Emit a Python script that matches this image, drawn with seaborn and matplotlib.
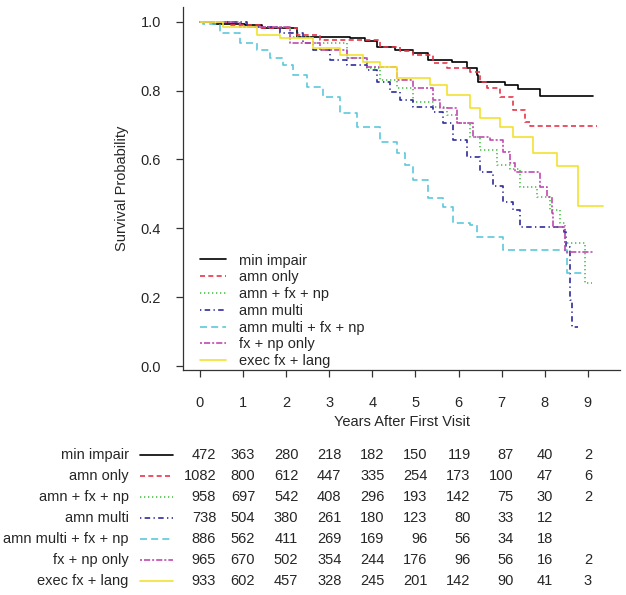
import numpy as np
import pandas as pd
import matplotlib
matplotlib.use("Agg")
import matplotlib.pyplot as plt
from matplotlib.lines import Line2D
import seaborn as sns

# ---------------- data ----------------
groups = ["min impair", "amn only", "amn + fx + np", "amn multi",
          "amn multi + fx + np", "fx + np only", "exec fx + lang"]

t_min_impair = [0, 0.30, 1.04, 1.44, 2.25, 3.48, 3.83, 4.11, 4.52, 4.94, 5.29, 5.85, 6.19, 6.43, 6.45, 7.07, 7.38, 7.89, 9.12]
s_min_impair = [1.0, 0.994, 0.990, 0.982, 0.956, 0.953, 0.944, 0.927, 0.918, 0.909, 0.889, 0.883, 0.866, 0.845, 0.825, 0.816, 0.805, 0.784, 0.784]

t_amn_only = [0, 0.70, 1.39, 2.25, 2.78, 4.18, 4.64, 4.94, 5.40, 5.73, 6.26, 6.50, 6.66, 6.96, 7.26, 7.54, 7.65, 9.21]
s_amn_only = [1.0, 0.990, 0.982, 0.961, 0.947, 0.927, 0.915, 0.903, 0.880, 0.866, 0.854, 0.825, 0.807, 0.781, 0.744, 0.709, 0.697, 0.697]

t_amn_fx_np = [0, 0.93, 2.09, 2.62, 3.41, 3.87, 4.18, 4.57, 4.94, 5.40, 5.73, 5.96, 6.26, 6.50, 6.89, 7.19, 7.42, 7.82, 8.12, 8.35, 8.47, 8.93, 9.09]
s_amn_fx_np = [1.0, 0.985, 0.956, 0.938, 0.895, 0.866, 0.831, 0.807, 0.767, 0.752, 0.729, 0.706, 0.665, 0.627, 0.584, 0.572, 0.520, 0.491, 0.453, 0.415, 0.357, 0.241, 0.241]

t_amn_multi = [0, 1.09, 1.86, 2.39, 2.62, 3.02, 3.41, 3.87, 4.11, 4.41, 4.64, 4.94, 5.40, 5.64, 5.87, 6.19, 6.50, 6.80, 7.03, 7.26, 7.42, 8.44, 8.49, 8.58, 8.63, 8.77]
s_amn_multi = [1.0, 0.985, 0.967, 0.938, 0.918, 0.889, 0.874, 0.860, 0.825, 0.796, 0.773, 0.752, 0.738, 0.706, 0.656, 0.607, 0.563, 0.523, 0.476, 0.453, 0.404, 0.389, 0.346, 0.192, 0.113, 0.113]

t_amn_multi_fx_np = [0, 0.07, 0.46, 0.93, 1.32, 1.62, 1.93, 2.16, 2.48, 2.85, 3.25, 3.64, 4.18, 4.57, 4.76, 4.94, 5.29, 5.64, 5.87, 6.26, 6.43, 7.03, 8.51, 8.93]
s_amn_multi_fx_np = [1.0, 0.993, 0.967, 0.938, 0.918, 0.895, 0.874, 0.845, 0.810, 0.781, 0.735, 0.694, 0.651, 0.619, 0.584, 0.540, 0.488, 0.462, 0.415, 0.410, 0.375, 0.337, 0.270, 0.270]

t_fx_np_only = [0, 0.93, 2.09, 2.78, 3.41, 3.87, 4.57, 4.94, 5.40, 5.57, 5.96, 6.33, 6.73, 7.03, 7.19, 7.31, 7.89, 8.05, 8.17, 8.19, 8.47, 9.12]
s_fx_np_only = [1.0, 0.985, 0.938, 0.918, 0.895, 0.868, 0.831, 0.807, 0.773, 0.749, 0.706, 0.665, 0.656, 0.622, 0.590, 0.563, 0.520, 0.491, 0.444, 0.404, 0.331, 0.331]

t_exec_fx_lang = [0, 0.53, 1.32, 1.86, 2.62, 3.25, 3.78, 4.18, 4.57, 5.34, 5.73, 6.26, 6.50, 6.96, 7.26, 7.72, 8.28, 8.77, 9.35]
s_exec_fx_lang = [1.0, 0.985, 0.961, 0.953, 0.924, 0.903, 0.883, 0.868, 0.837, 0.816, 0.787, 0.749, 0.720, 0.694, 0.665, 0.619, 0.581, 0.465, 0.465]

years = [0, 1, 2, 3, 4, 5, 6, 7, 8, 9]
risk_min_impair = [472, 363, 280, 218, 182, 150, 119, 87, 40, 2]
risk_amn_only = [1082, 800, 612, 447, 335, 254, 173, 100, 47, 6]
risk_amn_fx_np = [958, 697, 542, 408, 296, 193, 142, 75, 30, 2]
risk_amn_multi = [738, 504, 380, 261, 180, 123, 80, 33, 12, None]
risk_amn_multi_fx_np = [886, 562, 411, 269, 169, 96, 56, 34, 18, None]
risk_fx_np_only = [965, 670, 502, 354, 244, 176, 96, 56, 16, 2]
risk_exec_fx_lang = [933, 602, 457, 328, 245, 201, 142, 90, 41, 3]

yticks = [0.0, 0.2, 0.4, 0.6, 0.8, 1.0]

# ---------------- styles ----------------
colors = {"min impair": "#000000", "amn only": "#E8364A", "amn + fx + np": "#4CC24C",
          "amn multi": "#2E2E9A", "amn multi + fx + np": "#5CC8DC",
          "fx + np only": "#C04AB0", "exec fx + lang": "#F2E030"}
dashes = {"min impair": "", "amn only": (3, 2), "amn + fx + np": (0.8, 1.6),
          "amn multi": (0.8, 2, 3.3, 2), "amn multi + fx + np": (4.2, 2.5),
          "fx + np only": (1.2, 1.2, 3.7, 1.2), "exec fx + lang": ""}

curves = {
    "min impair": (t_min_impair, s_min_impair),
    "amn only": (t_amn_only, s_amn_only),
    "amn + fx + np": (t_amn_fx_np, s_amn_fx_np),
    "amn multi": (t_amn_multi, s_amn_multi),
    "amn multi + fx + np": (t_amn_multi_fx_np, s_amn_multi_fx_np),
    "fx + np only": (t_fx_np_only, s_fx_np_only),
    "exec fx + lang": (t_exec_fx_lang, s_exec_fx_lang),
}
risks = {
    "min impair": risk_min_impair, "amn only": risk_amn_only,
    "amn + fx + np": risk_amn_fx_np, "amn multi": risk_amn_multi,
    "amn multi + fx + np": risk_amn_multi_fx_np, "fx + np only": risk_fx_np_only,
    "exec fx + lang": risk_exec_fx_lang,
}

rows = []
for g in groups:
    tt, ss = curves[g]
    for a, b in zip(tt, ss):
        rows.append({"group": g, "t": a, "S": b})
df = pd.DataFrame(rows)

sns.set_style("ticks")
FS = 10.5
plt.rcParams["font.family"] = ["Liberation Sans", "DejaVu Sans"]
plt.rcParams["font.size"] = FS

W, H = 626, 595
fig = plt.figure(figsize=(W / 100, H / 100), dpi=100)

def px_rect(x0, y0, x1, y1):
    return [x0 / W, 1 - y1 / H, (x1 - x0) / W, (y1 - y0) / H]

ax = fig.add_axes(px_rect(183, 7, 620, 370))
LW = 1.2
sns.lineplot(data=df, x="t", y="S", hue="group", style="group",
             hue_order=groups, style_order=groups, palette=colors, dashes=dashes,
             estimator=None, sort=False, drawstyle="steps-post",
             linewidth=LW, legend=False, ax=ax)

ax.set_xlim(-0.394, 9.745)
ax.set_ylim(-0.0116, 1.0427)
ax.set_xticks(years)
ax.set_xticklabels([str(y) for y in years])
ax.set_yticks(yticks)
ax.set_yticklabels([f"{v:.1f}" for v in yticks])
ax.set_xlabel("Years After First Visit", fontsize=FS, labelpad=3)
ax.set_ylabel("Survival Probability", fontsize=FS, labelpad=8)
for s in ["top", "right"]:
    ax.spines[s].set_visible(False)
for s in ["left", "bottom"]:
    ax.spines[s].set_linewidth(0.9)
    ax.spines[s].set_color("#333333")
ax.tick_params(axis="both", direction="out", length=5, width=0.9, color="#333333",
               labelsize=FS)
ax.tick_params(axis="y", pad=11)
ax.tick_params(axis="x", pad=14)

handles = [Line2D([0], [0], color=colors[g], lw=LW,
                  linestyle=((0, dashes[g]) if dashes[g] else "-")) for g in groups]
ax.legend(handles, groups, loc="lower left", bbox_to_anchor=(0.039, 0.005),
          frameon=False, fontsize=FS, handlelength=1.75, handletextpad=0.9,
          labelspacing=0.19, borderpad=0, borderaxespad=0)

# ---------------- risk table ----------------
axt = fig.add_axes(px_rect(183, 444.5, 620, 591.5))
axt.set_xlim(ax.get_xlim())
axt.set_ylim(len(groups) - 0.5, -0.5)
axt.axis("off")
digit_w = 0.556 * FS
for j, yr in enumerate(years):
    col = [risks[g][j] for g in groups]
    nd = max(len(str(v)) for v in col if v is not None)
    for i, g in enumerate(groups):
        v = risks[g][j]
        if v is None:
            continue
        axt.annotate(str(v), xy=(yr, i), xytext=(nd * digit_w / 2, 0),
                     textcoords="offset points", ha="right", va="center",
                     fontsize=FS, annotation_clip=False)
for i, g in enumerate(groups):
    axt.text(-1.65, i, g, ha="right", va="center", fontsize=FS, clip_on=False)
    axt.plot([-1.39, -0.63], [i, i], color=colors[g], lw=LW,
             linestyle=((0, dashes[g]) if dashes[g] else "-"), clip_on=False)

fig.savefig("out.png", dpi=100)
